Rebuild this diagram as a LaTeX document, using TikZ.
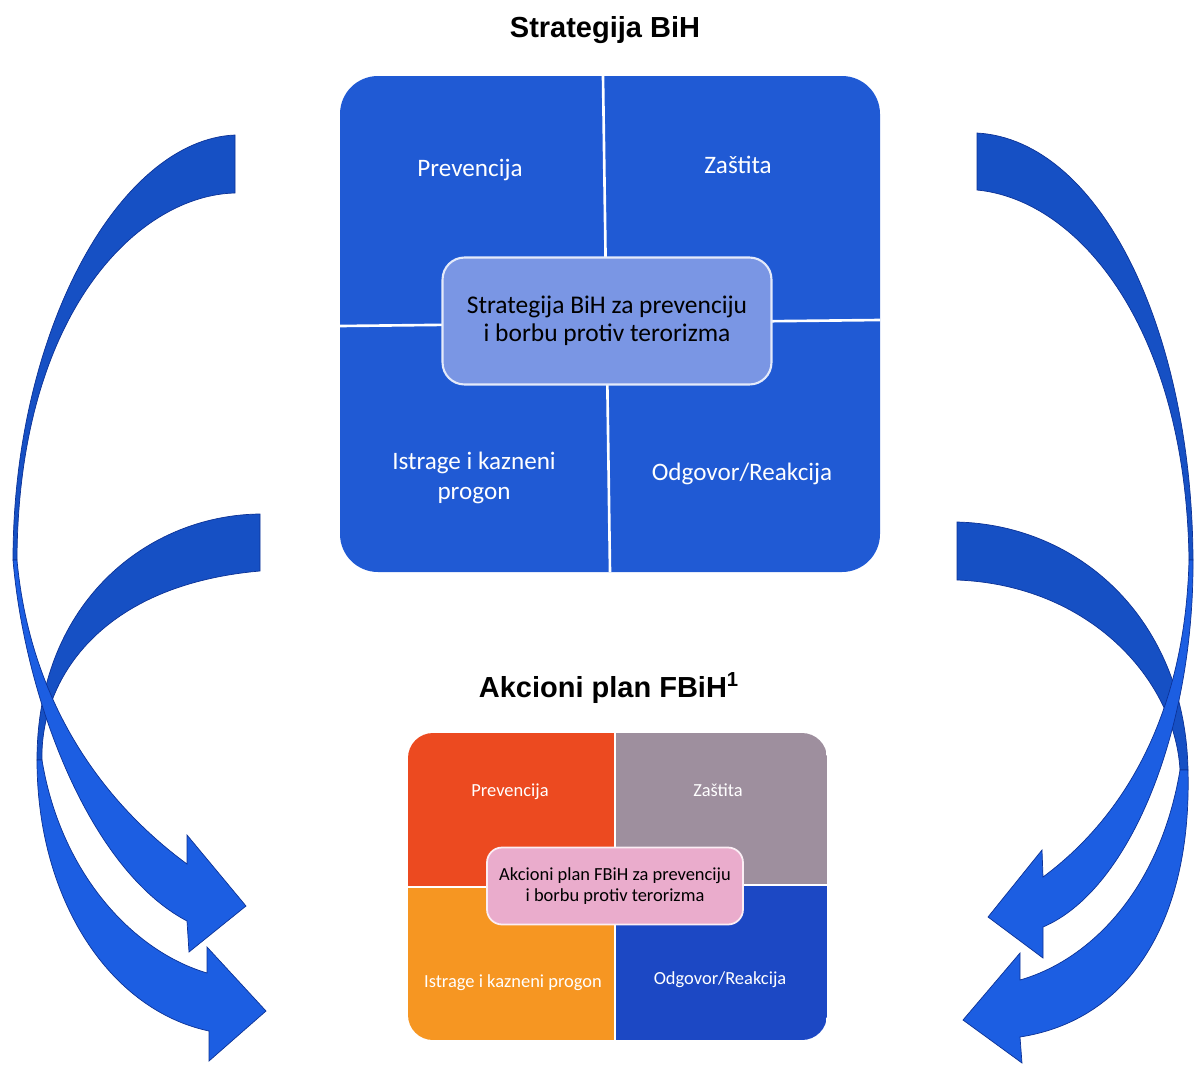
\documentclass[tikz,border=0pt]{standalone}
\usepackage{fontspec}
\setmainfont{Carlito}
\newfontfamily\arialfont{Liberation Sans}

\definecolor{stratblue}{RGB}{32,90,212}
\definecolor{stratlight}{RGB}{122,150,228}
\definecolor{ribbondark}{RGB}{22,80,196}
\definecolor{ribbonlight}{RGB}{28,94,226}
\definecolor{ribbonline}{RGB}{12,50,150}
\definecolor{planred}{RGB}{236,74,32}
\definecolor{plangray}{RGB}{158,143,158}
\definecolor{planorange}{RGB}{246,150,34}
\definecolor{planblue}{RGB}{28,72,196}
\definecolor{planpink}{RGB}{234,172,204}

\tikzset{
  title/.style={font=\arialfont\bfseries\fontsize{16.5}{20}\selectfont},
  quad/.style={text=white, align=center, font=\fontsize{14.3}{17}\selectfont},
  smallquad/.style={text=white, align=center, font=\fontsize{10.5}{12.5}\selectfont},
  stratcenter/.style={draw=white!80!stratlight, line width=1.2pt, fill=stratlight,
    rounded corners=0.44cm, align=center, minimum width=6.58cm, minimum height=2.54cm,
    font=\fontsize{14.5}{16}\selectfont},
  plancenter/.style={draw=white!80!planpink, line width=1pt, fill=planpink,
    rounded corners=0.3cm, align=center, minimum width=5.12cm, minimum height=1.54cm,
    font=\fontsize{10.5}{11.5}\selectfont},
  ribbonback/.style={fill=ribbondark, draw=ribbonline, line width=0.4pt},
  ribbonfront/.style={fill=ribbonlight, draw=ribbonline, line width=0.4pt}
}

\begin{document}
\begin{tikzpicture}[x=0.02cm, y=-0.02cm]
\useasboundingbox (0,0) rectangle (1194,1065);

% Titles
\node[title] (strat) at (605,30) {Strategija BiH};
\node[title] (akcioni) at (609,688) {Akcioni plan FBiH\textsuperscript{1}};

% Upper matrix, the strategy
\fill[stratblue, rounded corners=0.76cm] (340,76) rectangle (880,572);
\draw[white, line width=1.5pt] (603,76) -- (610,572);
\draw[white, line width=1.5pt] (340,326) -- (880,320);
\foreach \name/\x/\y/\txt in {sprev/470/170/Prevencija, szast/738/165/Zaštita,
  sistr/474/478/{Istrage i kazneni\\progon}, sodg/742/474/{Odgovor/Reakcija}}
{
  \node[quad] (\name) at (\x,\y) {\txt};
}
\node[stratcenter] (scentre) at (607,321) {Strategija BiH za prevenciju\\i borbu protiv terorizma};

% Lower matrix, the action plan
\begin{scope}
  \clip[rounded corners=0.5cm] (408,733) rectangle (827,1040);
  \fill[planred] (408,733) rectangle (615,887);
  \fill[plangray] (615,733) rectangle (827,885);
  \fill[planorange] (408,887) rectangle (615,1040);
  \fill[planblue] (615,885) rectangle (827,1040);
  \draw[white, line width=1.5pt] (615,733) -- (615,1040);
  \draw[white, line width=1.5pt] (408,887) -- (615,887) -- (615,885) -- (827,885);
\end{scope}
\foreach \name/\x/\y/\txt in {pprev/510/792/Prevencija, pzast/718/790/Zaštita,
  pistr/513/983/{Istrage i kazneni progon}, podg/720/980/{Odgovor/Reakcija}}
{
  \node[smallquad] (\name) at (\x,\y) {\txt};
}
\node[plancenter] (pcentre) at (615,886) {Akcioni plan FBiH za prevenciju\\i borbu protiv terorizma};

% Left ribbons: back halves first, then the front halves with the heads
\path[ribbonback] (235,135) .. controls (120,140) and (13,330) .. (13,560)
  -- (17,560) .. controls (18,310) and (140,195) .. (235,193) -- cycle;
\path[ribbonback] (260,514) .. controls (150,515) and (37,600) .. (37,760)
  -- (42,760) .. controls (40,680) and (100,585) .. (260,571) -- cycle;
\path[ribbonfront] (37,760) .. controls (37,900) and (110,1010) .. (209,1031)
  -- (209,1061) -- (266,1011) -- (207,947) -- (207,973)
  .. controls (130,950) and (60,870) .. (42,760) -- cycle;
\path[ribbonfront] (13,560) .. controls (25,700) and (90,870) .. (187,921)
  -- (189,952) -- (246,906) -- (187,835) -- (187,864)
  .. controls (100,800) and (30,700) .. (17,560) -- cycle;

% Right ribbons, same order
\path[ribbonback] (977,133) .. controls (1100,140) and (1192,330) .. (1193,560)
  -- (1189,560) .. controls (1186,330) and (1080,200) .. (977,190) -- cycle;
\path[ribbonback] (957,522) .. controls (1080,525) and (1185,620) .. (1188,770)
  -- (1180,770) .. controls (1175,680) and (1090,585) .. (957,580) -- cycle;
\path[ribbonfront] (1188,770) .. controls (1192,920) and (1130,1020) .. (1020,1037)
  -- (1022,1063) -- (963,1020) -- (1020,953) -- (1020,980)
  .. controls (1090,960) and (1160,890) .. (1180,770) -- cycle;
\path[ribbonfront] (1193,560) .. controls (1194,730) and (1130,890) .. (1043,927)
  -- (1043,958) -- (988,917) -- (1042,850) -- (1043,877)
  .. controls (1120,820) and (1185,720) .. (1189,560) -- cycle;

\end{tikzpicture}
\end{document}
